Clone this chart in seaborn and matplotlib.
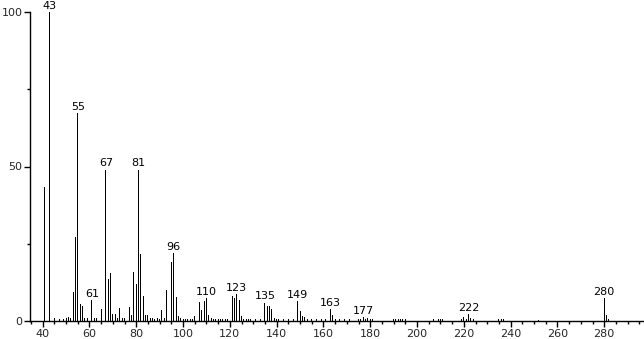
import matplotlib
matplotlib.use("Agg")
import matplotlib.pyplot as plt
from matplotlib.ticker import MultipleLocator, FixedLocator
import seaborn as sns
import pandas as pd

mz = [41, 43, 44, 45, 47, 49, 50, 51, 52, 53, 54, 55, 56, 57, 58, 59, 61, 62, 63, 65,
      67, 68, 69, 70, 71, 72, 73, 74, 75, 77, 78, 79, 80, 81, 82, 83, 84, 85, 86, 87,
      88, 89, 90, 91, 92, 93, 94, 95, 96, 97, 98, 99, 100, 101, 102, 103, 104, 105,
      107, 108, 109, 110, 111, 112, 113, 114, 115, 116, 117, 118, 119,
      121, 122, 123, 124, 125, 126, 127, 128, 129, 131, 133,
      135, 136, 137, 138, 139, 140, 141, 143, 145, 147,
      149, 150, 151, 152, 153, 155, 157, 159, 161,
      163, 164, 165, 167, 169, 171, 175, 176, 177, 178, 179, 180, 181,
      190, 191, 192, 193, 194, 195, 207, 209, 210, 211,
      219, 220, 221, 222, 223, 224, 235, 236, 237, 252,
      280, 281, 282]
intensity = [43.4, 100, 3.0, 0.9, 0.5, 0.7, 0.9, 1.2, 0.9, 9.4, 27.3, 67.3, 5.5, 4.9, 1.0, 1.0, 6.8, 1.0, 1.0, 3.9,
             49.0, 13.6, 15.6, 2.3, 2.3, 1.0, 4.2, 1.0, 1.0, 4.5, 2.0, 16.0, 12.0, 49.0, 21.7, 8.2, 2.0, 2.0, 1.0, 1.0,
             0.8, 1.0, 0.5, 3.7, 1.0, 10.0, 8.4, 19.0, 22.0, 7.8, 1.5, 1.0, 0.8, 0.8, 0.8, 0.8, 0.8, 1.5,
             6.3, 3.6, 6.5, 7.3, 2.0, 1.0, 0.8, 0.8, 0.8, 0.8, 0.8, 0.8, 0.8,
             8.0, 7.3, 8.6, 6.8, 1.5, 0.8, 0.8, 0.8, 0.8, 0.8, 0.8,
             5.9, 4.9, 4.9, 3.9, 1.0, 0.8, 0.8, 0.8, 0.8, 0.8,
             6.5, 3.3, 1.6, 1.2, 0.8, 0.8, 0.8, 0.8, 0.8,
             3.9, 2.0, 0.8, 0.8, 0.5, 0.5, 0.5, 0.5, 1.2, 0.8, 1.0, 0.6, 0.6,
             0.5, 0.5, 0.6, 0.6, 0.5, 0.5, 0.5, 0.5, 0.6, 0.5,
             0.6, 1.4, 0.8, 2.2, 1.0, 0.6, 0.5, 0.6, 0.6, 0.4,
             7.3, 1.8, 0.6]
labeled_peaks = [43, 55, 61, 67, 81, 96, 110, 123, 135, 149, 163, 177, 222, 280]

x_ticks = [40, 60, 80, 100, 120, 140, 160, 180, 200, 220, 240, 260, 280]
y_ticks = [0, 50, 100]

df = pd.DataFrame({"mz": mz, "intensity": intensity})

sns.set_style("white")
plt.rcParams["font.family"] = ["DejaVu Sans"]

fig = plt.figure(figsize=(6.44, 3.39), dpi=100)
ax = fig.add_axes([30 / 644, 18 / 339, 614 / 644, 309 / 339])

sns.barplot(data=df, x="mz", y="intensity", native_scale=True, color="black",
            width=0.42, linewidth=0, errorbar=None, saturation=1, ax=ax)

lookup = dict(zip(mz, intensity))
for p in labeled_peaks:
    ax.annotate(str(p), xy=(p, lookup[p]), xytext=(0, 1.0), textcoords="offset points",
                ha="center", va="bottom", fontsize=8, color="black", annotation_clip=False)

ax.set_xlim(34.6, 297.0)
ax.set_ylim(0, 100)
ax.set_xticks(x_ticks)
ax.set_xticklabels([str(t) for t in x_ticks])
ax.xaxis.set_minor_locator(MultipleLocator(5))
ax.set_yticks(y_ticks)
ax.set_yticklabels([str(t) for t in y_ticks])
ax.yaxis.set_minor_locator(FixedLocator([25, 75]))
ax.tick_params(axis="both", which="major", direction="out", length=4, width=1,
               color="black", labelsize=8, pad=1.5, bottom=True, left=True)
ax.tick_params(axis="both", which="minor", direction="out", length=2, width=1,
               color="black", bottom=True, left=True)
ax.set_xlabel("")
ax.set_ylabel("")
for side in ["top", "right"]:
    ax.spines[side].set_visible(False)
for side in ["left", "bottom"]:
    ax.spines[side].set_color("black")
    ax.spines[side].set_linewidth(1)

fig.savefig("out.png", dpi=100, facecolor="white")
